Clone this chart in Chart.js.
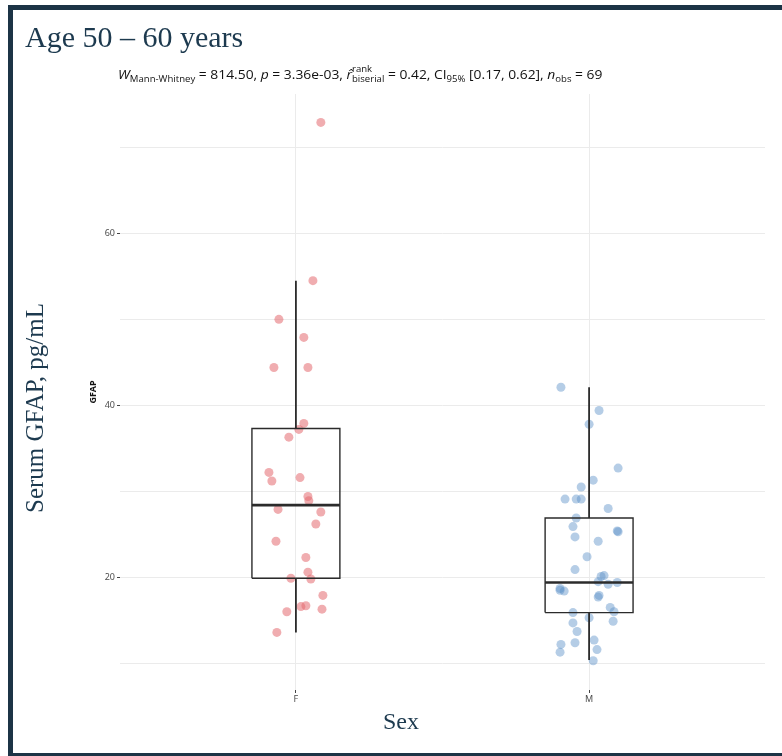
<!DOCTYPE html>
<html>
<head>
<meta charset="utf-8">
<script src="https://cdn.jsdelivr.net/npm/chart.js@4.4.1/dist/chart.umd.min.js"></script>
<style>
  html, body { margin: 0; padding: 0; background: #fff; }
  #wrap { position: relative; width: 782px; height: 756px; overflow: hidden; }
  #chart { position: absolute; left: 0; top: 0; }
  #frame { position: absolute; left: 8px; top: 5px; width: 774px; height: 743px;
           border-top: 5px solid #1c3446; border-left: 5px solid #1c3446; border-bottom: 3px solid #1c3446;
           pointer-events: none; }
  .serif { position: absolute; font-family: "Liberation Serif", "DejaVu Serif", serif; color: #1d3a4f; white-space: nowrap; line-height: 1; }
  #title { left: 25px; top: 22px; font-size: 30px; }
  #ylab { left: 34px; top: 408px; font-size: 25px; transform: translate(-50%, -50%) rotate(-90deg); }
  #xlab { left: 401px; top: 721px; font-size: 24px; transform: translate(-50%, -50%); }
  #sub { position: absolute; left: 118px; top: 67px; font-family: "Open Sans", "Noto Sans", sans-serif; font-size: 13px;
         color: #111; white-space: nowrap; line-height: 15px; transform-origin: 0 50%; transform: scaleX(1.065); }
  #sub i { font-style: italic; }
  #sub .lo { font-size: 9px; position: relative; top: 3px; }
  #sub .stack { display: inline-block; position: relative; font-size: 9px; }
  #sub .stack .dn { position: relative; top: 3px; }
  #sub .stack .up { position: absolute; left: 0; top: -7px; }
</style>
</head>
<body>
<div id="wrap">
  <canvas id="chart" width="782" height="756"></canvas>
  <div id="frame"></div>
  <div id="title" class="serif">Age 50 – 60 years</div>
  <div id="sub"><i>W</i><span class="lo">Mann-Whitney</span> = 814.50, <i>p</i> = 3.36e-03, <i>r̂</i><span class="stack"><span class="up">rank</span><span class="dn">biserial</span></span> = 0.42, CI<span class="lo">95%</span> [0.17, 0.62], <i>n</i><span class="lo">obs</span> = 69</div>
  <div id="ylab" class="serif">Serum GFAP, pg/mL</div>
  <div id="xlab" class="serif">Sex</div>
</div>
<script>
// categories and axis ticks
const groups = ['F', 'M'];
const yTicks = [10, 20, 30, 40, 50, 60, 70];
const yLabels = [20, 40, 60];

// GFAP values, with the jitter offset of each point
const femaleGfap = [72.9, 54.5, 50.0, 47.9, 44.4, 44.4, 37.9, 37.2, 36.3, 32.2, 31.2, 31.6, 29.4, 28.9,
                    27.9, 27.6, 26.2, 24.2, 22.3, 20.6, 19.9, 19.8, 17.9, 16.6, 16.7, 16.0, 16.3, 13.6];
const femaleJitter = [0.085, 0.058, -0.058, 0.027, -0.075, 0.041, 0.027, 0.010, -0.024, -0.092, -0.082, 0.014, 0.041, 0.044,
                      -0.061, 0.085, 0.068, -0.068, 0.034, 0.041, -0.017, 0.051, 0.092, 0.017, 0.034, -0.031, 0.089, -0.065];
const maleGfap = [42.1, 39.4, 37.8, 32.7, 31.3, 30.5, 29.1, 29.1, 29.1, 28.0, 26.9, 25.9, 25.4, 25.3,
                  24.7, 24.2, 22.4, 20.9, 20.2, 20.1, 19.5, 19.2, 19.4, 18.7, 18.4, 18.5, 17.9, 17.7,
                  16.5, 16.0, 15.9, 15.3, 14.9, 14.7, 13.7, 12.7, 12.4, 12.2, 11.6, 11.3, 10.3];
const maleJitter = [-0.096, 0.034, 0.000, 0.099, 0.014, -0.027, -0.082, -0.044, -0.027, 0.065, -0.044, -0.055, 0.096, 0.099,
                    -0.048, 0.031, -0.007, -0.048, 0.051, 0.041, 0.031, 0.065, 0.096, -0.099, -0.085, -0.099, 0.034, 0.031,
                    0.072, 0.085, -0.055, 0.000, 0.082, -0.055, -0.041, 0.017, -0.048, -0.096, 0.027, -0.099, 0.014];

// box plot summaries per group (F, M)
const whiskLo = [13.6, 10.4];
const boxQ1 = [19.9, 15.9];
const boxMed = [28.4, 19.4];
const boxQ3 = [37.3, 26.9];
const whiskHi = [54.5, 42.1];

const lineCol = '#2b2b2b';
const gridCol = '#ebebeb';
const half = 0.15;

function seg(pts, width) {
    return { data: pts, showLine: true, pointRadius: 0, borderColor: lineCol, borderWidth: width,
             borderJoinStyle: 'miter', tension: 0, fill: false };
}

const datasets = [];
groups.forEach(function(g, i) {
    const c = i + 1;
    datasets.push(seg([{x: c - half, y: boxMed[i]}, {x: c + half, y: boxMed[i]}], 2.6));
    datasets.push(seg([{x: c - half, y: boxQ1[i]}, {x: c + half, y: boxQ1[i]}, {x: c + half, y: boxQ3[i]},
                       {x: c - half, y: boxQ3[i]}, {x: c - half, y: boxQ1[i]}], 1.4));
    datasets.push(seg([{x: c, y: boxQ3[i]}, {x: c, y: whiskHi[i]}], 1.8));
    datasets.push(seg([{x: c, y: boxQ1[i]}, {x: c, y: whiskLo[i]}], 1.8));
});

datasets.push({
    data: femaleGfap.map(function(v, k) { return {x: 1 + femaleJitter[k], y: v}; }),
    pointRadius: 4.5, pointBorderWidth: 0, backgroundColor: 'rgba(228, 105, 112, 0.55)'
});
datasets.push({
    data: maleGfap.map(function(v, k) { return {x: 2 + maleJitter[k], y: v}; }),
    pointRadius: 4.5, pointBorderWidth: 0, backgroundColor: 'rgba(90, 145, 200, 0.45)'
});

const tickFont = { family: "'Noto Sans', sans-serif", size: 9 };

new Chart(document.getElementById('chart'), {
    type: 'scatter',
    data: { datasets: datasets },
    options: {
        responsive: false,
        animation: false,
        layout: { padding: { left: 80, right: 17, top: 94, bottom: 42 } },
        plugins: { legend: { display: false }, tooltip: { enabled: false } },
        scales: {
            x: {
                type: 'linear', min: 0.4, max: 2.6,
                afterBuildTicks: function(s) { s.ticks = groups.map(function(g, i) { return {value: i + 1}; }); },
                afterFit: function(s) { s.height = 24; },
                ticks: { font: tickFont, color: '#4d4d4d', padding: 1,
                         callback: function(v) { return groups[Math.round(v) - 1]; } },
                grid: { color: gridCol, lineWidth: 1, tickLength: 3, tickColor: '#444' },
                border: { display: false }
            },
            y: {
                min: 6.9, max: 76.2,
                afterBuildTicks: function(s) { s.ticks = yTicks.map(function(v) { return {value: v}; }); },
                afterFit: function(s) { s.width = 40; },
                ticks: { font: tickFont, color: '#4d4d4d', padding: 2,
                         callback: function(v) { return yLabels.indexOf(v) >= 0 ? String(v) : ''; } },
                grid: { color: gridCol, lineWidth: 1, tickLength: 3,
                        tickColor: function(ctx) { return yLabels.indexOf(ctx.tick.value) >= 0 ? '#444' : 'rgba(0,0,0,0)'; } },
                border: { display: false },
                title: { display: true, text: 'GFAP', color: '#111', padding: { top: 8, bottom: 0 },
                         font: { family: "'Noto Sans', sans-serif", size: 9, weight: 'bold' } }
            }
        }
    }
});
</script>
</body>
</html>
